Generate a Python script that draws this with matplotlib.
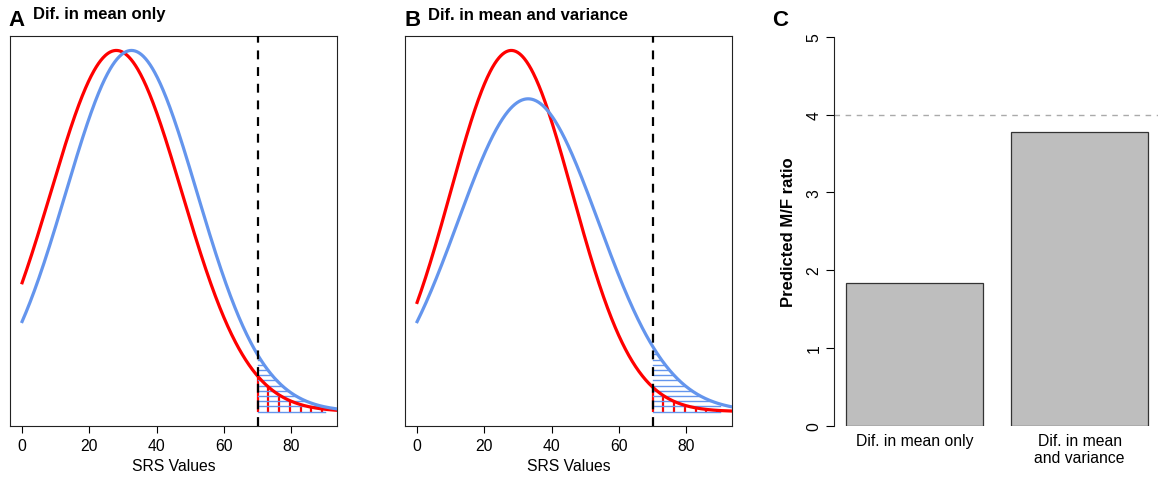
import numpy as np
import matplotlib
matplotlib.use("Agg")
import matplotlib.pyplot as plt

plt.rcParams['font.family'] = ['Liberation Sans', 'DejaVu Sans']

# normal curves (red, blue): means and SDs
means_A = [28, 32.5]
sds_A = [19.5, 19.5]
means_B = [28, 33]
sds_B = [18.1, 20.9]
threshold = 70
x_max = 90
panel_titles = ["Dif. in mean only", "Dif. in mean and variance"]

# panel C
bar_labels = ["Dif. in mean only", "Dif. in mean\nand variance"]
bar_values = [1.84, 3.78]
ref_ratio = 4

RED = '#FF0000'
BLUE = '#6495ED'
W, H = 1158, 481
FS = 11.3


def dens(x, mu, sd):
    return np.exp(-0.5 * ((x - mu) / sd) ** 2) / (sd * np.sqrt(2 * np.pi))


def draw_panel(ax, means, sds):
    xs = np.linspace(0, 100, 600)
    red = dens(xs, means[0], sds[0])
    blue = dens(xs, means[1], sds[1])
    m = max(red[xs <= x_max].max(), blue[xs <= x_max].max())

    # red tail: vertical hatch lines
    for xv in np.arange(threshold, x_max + 0.01, 3.2):
        ax.plot([xv, xv], [0, dens(xv, means[0], sds[0])], color=RED, lw=1.6,
                solid_capstyle='butt', zorder=2)
    # blue tail: horizontal hatch lines
    peak_b = dens(means[1], means[1], sds[1])
    top = dens(threshold, means[1], sds[1])
    for yv in np.arange(0, top, m * 0.0144):
        if yv <= 0:
            xe = x_max
        else:
            xe = min(x_max, means[1] + sds[1] * np.sqrt(-2 * np.log(yv / peak_b)))
        ax.plot([threshold, xe], [yv, yv], color=BLUE, lw=1.0, zorder=3)

    ax.plot(xs, red, color=RED, lw=2.3, zorder=4)
    ax.plot(xs, blue, color=BLUE, lw=2.3, zorder=4)
    ax.axvline(threshold, color='black', lw=1.6, ls=(0, (4, 3.5)), zorder=5)

    ax.set_xlim(-0.04 * x_max, 1.04 * x_max)
    ax.set_ylim(-0.04 * m, 1.04 * m)
    ax.set_xticks([0, 20, 40, 60, 80])
    ax.set_yticks([])
    ax.tick_params(axis='x', length=5, width=0.8, labelsize=FS, pad=4)
    ax.set_xlabel("SRS Values", fontsize=FS, labelpad=3)
    for s in ax.spines.values():
        s.set_linewidth(0.8)
        s.set_color('#222222')


fig = plt.figure(figsize=(W / 100, H / 100), dpi=100)

axA = fig.add_axes([10 / W, (H - 427) / H, 327 / W, 390 / H])
axB = fig.add_axes([405 / W, (H - 427) / H, 327 / W, 390 / H])
draw_panel(axA, means_A, sds_A)
draw_panel(axB, means_B, sds_B)

# panel C
c_left, c_right = 833.5, 1160.5
axC = fig.add_axes([c_left / W, (H - 426.7) / H, (c_right - c_left) / W, 389 / H])
pos = [0.7, 1.9]
axC.bar(pos, bar_values, width=1.0, color='#BEBEBE', edgecolor='#333333', lw=0.9, zorder=2)
axC.axhline(ref_ratio, color='#AAAAAA', lw=1.0, ls=(0, (4, 4)), zorder=1, clip_on=False)
axC.set_xlim(0.112, 2.488)
axC.set_ylim(0, 5)
axC.set_yticks([0, 1, 2, 3, 4, 5])
axC.set_yticklabels(['0', '1', '2', '3', '4', '5'], rotation=90, va='center')
axC.set_xticks(pos)
axC.set_xticklabels(bar_labels, fontsize=FS, linespacing=1.2)
axC.tick_params(axis='x', length=0, pad=5)
axC.tick_params(axis='y', length=5.5, width=0.8, labelsize=FS, pad=3)
for s in ['top', 'right', 'bottom']:
    axC.spines[s].set_visible(False)
axC.spines['left'].set_linewidth(0.8)
axC.spines['left'].set_color('#222222')
axC.set_ylabel("Predicted M/F ratio", fontsize=12, fontweight='bold', labelpad=8)

# panel letters and titles
fig.text(8 / W, 1 - 26 / H, 'A', fontsize=16, fontweight='bold', va='baseline')
fig.text(33 / W, 1 - 19.5 / H, panel_titles[0], fontsize=12, fontweight='bold', va='baseline')
fig.text(405 / W, 1 - 26 / H, 'B', fontsize=16, fontweight='bold', va='baseline')
fig.text(428 / W, 1 - 19.5 / H, panel_titles[1], fontsize=12, fontweight='bold', va='baseline')
fig.text(772 / W, 1 - 26 / H, 'C', fontsize=16, fontweight='bold', va='baseline')

fig.savefig("out.png", dpi=100)
